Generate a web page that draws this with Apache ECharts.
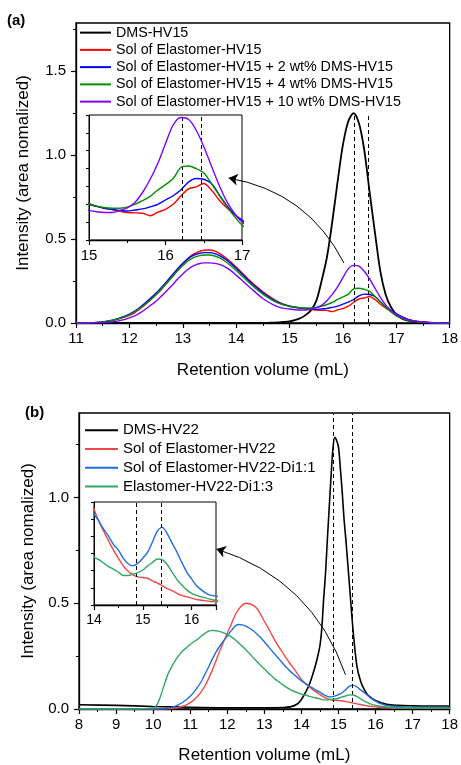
<!DOCTYPE html>
<html>
<head>
<meta charset="utf-8">
<script src="https://cdn.jsdelivr.net/npm/echarts@6/dist/echarts.min.js"></script>
<style>
html,body{margin:0;padding:0;background:#fff;}
#c{width:461px;height:765px;}
</style>
</head>
<body>
<div id="c"></div>
<script>
// ---------- Panel (a) ----------
const retA = [11.0,11.1,11.2,11.3,11.4,11.5,11.6,11.7,11.8,11.9,
  12.0,12.1,12.2,12.3,12.4,12.5,12.6,12.7,12.8,12.9,
  13.0,13.1,13.2,13.3,13.4,13.5,13.6,13.7,13.8,13.9,
  14.0,14.1,14.2,14.3,14.4,14.5,14.6,14.7,14.8,14.9,
  15.0,15.1,15.2,15.3,15.4,15.5,15.6,15.7,15.8,15.9,
  16.0,16.1,16.2,16.3,16.4,16.5,16.6,16.7,16.8,16.9,
  17.0,17.1,17.2,17.3,17.4,17.5,17.6,17.7,17.8,17.9,18.0];
const dmsHV15 = [0,0,0,0,0,0,0,0,0,0,
  0,0,0,0,0,0,0,0,0,0,
  0,0,0,0,0,0,0,0,0,0,
  0,0,0,0,0,0,0.001,0.002,0.003,0.006,
  0.01,0.017,0.028,0.047,0.075,0.13,0.25,0.39,0.6,0.84,
  1.06,1.2,1.25,1.19,1.03,0.78,0.54,0.31,0.17,0.095,
  0.05,0.027,0.015,0.008,0.004,0.002,0.001,0,0,0,0];
const solHV15 = [0,0,0.001,0.002,0.003,0.005,0.01,0.016,0.024,0.033,
  0.045,0.062,0.085,0.11,0.138,0.168,0.2,0.237,0.275,0.315,
  0.352,0.385,0.41,0.425,0.433,0.435,0.428,0.412,0.39,0.363,
  0.333,0.302,0.27,0.24,0.212,0.186,0.163,0.142,0.124,0.11,
  0.102,0.094,0.089,0.085,0.08,0.077,0.076,0.075,0.068,0.078,
  0.086,0.1,0.123,0.143,0.149,0.158,0.14,0.112,0.09,0.072,
  0.051,0.035,0.022,0.014,0.009,0.006,0.004,0.002,0,0,0];
const sol2wt = [0,0,0.001,0.002,0.004,0.007,0.012,0.019,0.028,0.039,
  0.053,0.071,0.094,0.12,0.148,0.178,0.212,0.248,0.285,0.322,
  0.355,0.383,0.402,0.414,0.419,0.419,0.413,0.4,0.38,0.355,
  0.326,0.295,0.264,0.234,0.206,0.18,0.158,0.138,0.121,0.108,
  0.1,0.094,0.089,0.086,0.083,0.081,0.084,0.087,0.093,0.1,
  0.112,0.124,0.14,0.162,0.172,0.17,0.158,0.128,0.097,0.072,
  0.056,0.038,0.025,0.016,0.01,0.006,0.003,0.001,0,0,0];
const sol4wt = [0,0,0.001,0.002,0.003,0.006,0.011,0.017,0.026,0.037,
  0.05,0.067,0.088,0.113,0.14,0.17,0.203,0.238,0.274,0.31,
  0.342,0.37,0.389,0.4,0.405,0.405,0.399,0.386,0.366,0.341,
  0.313,0.283,0.253,0.224,0.196,0.172,0.151,0.132,0.117,0.106,
  0.1,0.095,0.091,0.089,0.089,0.092,0.1,0.11,0.122,0.14,
  0.155,0.172,0.203,0.207,0.2,0.188,0.158,0.126,0.094,0.066,
  0.042,0.028,0.018,0.011,0.007,0.004,0.002,0.001,0,0,0];
const sol10wt = [0,0,0,0.001,0.002,0.003,0.005,0.008,0.013,0.02,
  0.03,0.043,0.06,0.082,0.106,0.13,0.16,0.192,0.225,0.26,
  0.292,0.32,0.34,0.353,0.358,0.358,0.355,0.347,0.333,0.312,
  0.285,0.257,0.228,0.2,0.172,0.146,0.125,0.108,0.095,0.087,
  0.083,0.079,0.077,0.077,0.082,0.09,0.105,0.133,0.17,0.215,
  0.27,0.322,0.343,0.338,0.308,0.262,0.207,0.154,0.108,0.075,
  0.051,0.034,0.022,0.014,0.008,0.005,0.003,0.001,0,0,0];
const namesA = ['DMS-HV15','Sol of Elastomer-HV15','Sol of Elastomer-HV15 + 2 wt% DMS-HV15',
  'Sol of Elastomer-HV15 + 4 wt% DMS-HV15','Sol of Elastomer-HV15 + 10 wt% DMS-HV15'];
const colorsA = ['#000000','#ff0000','#0000ff','#009000','#7f00ff'];
const dashA = [16.22, 16.47];
const dashTopA = 1.24;
const arrowA = [[16.02, 0.357],[13.86, 0.863]];

// ---------- Panel (b) ----------
const retB = [8,9,
  10.0,10.1,10.2,10.3,10.4,10.5,10.6,10.7,10.8,10.9,
  11.0,11.1,11.2,11.3,11.4,11.5,11.6,11.7,11.8,11.9,
  12.0,12.1,12.2,12.3,12.4,12.5,12.6,12.7,12.8,12.9,
  13.0,13.1,13.2,13.3,13.4,13.5,13.6,13.7,13.8,13.9,
  14.0,14.1,14.2,14.3,14.4,14.5,14.6,14.7,14.8,14.9,
  15.0,15.1,15.2,15.3,15.4,15.5,15.6,15.7,15.8,15.9,
  16.0,16.1,16.2,16.3,16.4,16.5,17,18];
const solHV22 = [0,0,
  0,0,0,0,0.001,0.002,0.004,0.008,0.013,0.02,
  0.03,0.043,0.06,0.082,0.11,0.145,0.185,0.23,0.275,0.318,
  0.358,0.398,0.44,0.47,0.49,0.5,0.498,0.49,0.475,0.448,
  0.415,0.385,0.352,0.32,0.292,0.265,0.238,0.213,0.19,0.165,
  0.14,0.122,0.107,0.093,0.08,0.068,0.057,0.049,0.044,0.041,
  0.04,0.039,0.035,0.032,0.028,0.024,0.021,0.017,0.014,0.012,
  0.01,0.008,0.007,0.006,0.005,0.005,0.004,0.003];
const solHV22Di11 = [0,0,
  0,0,0.001,0.002,0.004,0.008,0.014,0.022,0.032,0.045,
  0.06,0.08,0.103,0.13,0.165,0.2,0.237,0.27,0.298,0.322,
  0.345,0.368,0.39,0.4,0.398,0.392,0.382,0.37,0.355,0.338,
  0.318,0.297,0.276,0.256,0.236,0.215,0.196,0.178,0.163,0.148,
  0.133,0.122,0.11,0.1,0.088,0.08,0.068,0.06,0.057,0.061,
  0.068,0.077,0.092,0.108,0.113,0.104,0.09,0.077,0.062,0.048,
  0.038,0.028,0.022,0.017,0.014,0.013,0.008,0.006];
const elaHV22Di13 = [0,0,
  0.005,0.02,0.06,0.115,0.165,0.2,0.23,0.255,0.275,0.29,
  0.305,0.318,0.33,0.345,0.358,0.368,0.372,0.37,0.366,0.36,
  0.352,0.342,0.33,0.314,0.298,0.28,0.262,0.243,0.225,0.206,
  0.19,0.172,0.156,0.14,0.127,0.114,0.102,0.092,0.084,0.077,
  0.07,0.066,0.061,0.056,0.052,0.048,0.043,0.043,0.045,0.047,
  0.051,0.057,0.062,0.067,0.066,0.059,0.048,0.037,0.029,0.022,
  0.017,0.014,0.012,0.01,0.008,0.007,0.005,0.004];
const retBlackB = [8,9,10,11,12,13,13.5,13.7,13.9,14.0,14.1,14.2,14.3,14.4,14.5,14.55,14.6,14.65,14.7,14.75,
  14.8,14.85,14.9,14.95,15.0,15.05,15.1,15.15,15.2,15.3,15.4,15.5,15.6,15.7,15.8,16.0,16.3,16.6,17,17.5,18];
const dmsHV22 = [0.02,0.017,0.012,0.008,0.006,0.006,0.007,0.01,0.025,0.045,0.075,0.11,0.16,0.22,0.3,0.38,0.52,0.64,0.8,0.95,
  1.1,1.23,1.285,1.27,1.24,1.14,1.03,0.9,0.8,0.58,0.36,0.2,0.13,0.09,0.065,0.04,0.022,0.017,0.015,0.014,0.014];
const namesB = ['DMS-HV22','Sol of Elastomer-HV22','Sol of Elastomer-HV22-Di1:1','Elastomer-HV22-Di1:3'];
const colorsB = ['#000000','#f04848','#1e6fdc','#30a860'];
const dashB = [14.87, 15.37];
const arrowB = [[15.19, 0.162],[11.71, 0.757]];

function pairs(xs, ys){ return xs.map((x,i)=>[x, ys[i]]); }

const chart = echarts.init(document.getElementById('c'), null, {renderer:'canvas'});
const FONT = 'Liberation Sans, Arial, sans-serif';
const txt = {color:'#000', fontFamily: FONT};

function xAxisCfg(gi, min, max, size, name, gap, showMax){
  return {type:'value', gridIndex:gi, min:min, max:max, interval:1,
    name:name, nameLocation:'middle', nameGap:gap,
    nameTextStyle:Object.assign({fontSize:17}, txt),
    axisLine:{show:true, onZero:false, lineStyle:{color:'#000', width:1.3}},
    axisTick:{show:true, length:5, lineStyle:{color:'#000', width:1.2}},
    minorTick:{show:true, splitNumber:2, length:3, lineStyle:{color:'#000', width:1}},
    axisLabel:Object.assign({fontSize:size, margin:8, showMaxLabel: showMax}, txt),
    splitLine:{show:false}};
}
function yAxisMain(gi, max, name, gap){
  return {type:'value', gridIndex:gi, min:0, max:max, interval:0.5,
    name:name, nameLocation:'middle', nameGap:gap,
    nameTextStyle:Object.assign({fontSize:17}, txt),
    axisLine:{show:true, onZero:false, lineStyle:{color:'#000', width:1.3}},
    axisTick:{show:true, length:5, customValues:[0,0.5,1,1.5], lineStyle:{color:'#000', width:1.2}},
    minorTick:{show:true, splitNumber:2, length:3, lineStyle:{color:'#000', width:1}},
    axisLabel:Object.assign({fontSize:15, margin:10, showMaxLabel:false,
      formatter:(v)=>v.toFixed(1)}, txt),
    splitLine:{show:false}};
}
function yAxisInset(gi, max, interval){
  return {type:'value', gridIndex:gi, min:0, max:max, interval:interval,
    axisLine:{show:true, onZero:false, lineStyle:{color:'#000', width:1}},
    axisTick:{show:true, length:3, lineStyle:{color:'#000', width:1}},
    axisLabel:{show:false}, splitLine:{show:false}};
}
function arrowSeries(xi, coords){
  return {type:'lines', coordinateSystem:'cartesian2d', xAxisIndex:xi, yAxisIndex:xi,
    silent:true, animation:false, z:20, symbol:['none','arrow'], symbolSize:[7,9],
    lineStyle:{color:'#000', width:1, opacity:1, curveness:-0.25},
    data:[{coords:coords}]};
}

const series = [];
const dataA = [dmsHV15, solHV15, sol2wt, sol4wt, sol10wt];
dataA.forEach((ys, i)=>{
  const s = {type:'line', name:namesA[i], xAxisIndex:0, yAxisIndex:0,
    data:pairs(retA, ys), showSymbol:false, symbol:'none', smooth:0.3, animation:false,
    lineStyle:{color:colorsA[i], width: i===0 ? 1.8 : 1.4}, itemStyle:{color:colorsA[i]}, z: 2+i};
  if (i===0){
    s.markLine = {silent:true, symbol:['none','none'], animation:false, label:{show:false},
      lineStyle:{color:'#000', type:[4,3], width:1},
      data: dashA.map(x=>[{coord:[x,0]},{coord:[x,dashTopA]}])};
  }
  series.push(s);
});
series.push(arrowSeries(0, arrowA));
// inset (a)
dataA.forEach((ys, i)=>{
  if (i===0) return;
  const s = {type:'line', name:namesA[i], xAxisIndex:1, yAxisIndex:1,
    data:pairs(retA, ys), showSymbol:false, symbol:'none', smooth:0.3, animation:false, clip:true,
    lineStyle:{color:colorsA[i], width:1.4}, itemStyle:{color:colorsA[i]}, z: 2+i};
  if (i===1){
    s.markLine = {silent:true, symbol:['none','none'], animation:false, label:{show:false},
      lineStyle:{color:'#000', type:[4,3], width:1},
      data: dashA.map(x=>({xAxis:x}))};
  }
  series.push(s);
});

const dataB = [null, solHV22, solHV22Di11, elaHV22Di13];
namesB.forEach((nm, i)=>{
  const d = i===0 ? pairs(retBlackB, dmsHV22) : pairs(retB, dataB[i]);
  const s = {type:'line', name:nm, xAxisIndex:2, yAxisIndex:2, data:d,
    showSymbol:false, symbol:'none', smooth:0.3, animation:false,
    lineStyle:{color:colorsB[i], width: i===0 ? 1.6 : 1.4}, itemStyle:{color:colorsB[i]}, z:2+i};
  if (i===0){
    s.markLine = {silent:true, symbol:['none','none'], animation:false, label:{show:false},
      lineStyle:{color:'#000', type:[4,3], width:1},
      data: dashB.map(x=>({xAxis:x}))};
  }
  series.push(s);
});
series.push(arrowSeries(2, arrowB));
// inset (b)
namesB.forEach((nm, i)=>{
  if (i===0) return;
  const s = {type:'line', name:nm, xAxisIndex:3, yAxisIndex:3, data:pairs(retB, dataB[i]),
    showSymbol:false, symbol:'none', smooth:0.3, animation:false, clip:true,
    lineStyle:{color:colorsB[i], width:1.4}, itemStyle:{color:colorsB[i]}, z:2+i};
  if (i===1){
    s.markLine = {silent:true, symbol:['none','none'], animation:false, label:{show:false},
      lineStyle:{color:'#000', type:[4,3], width:1},
      data: dashB.map(x=>({xAxis:x}))};
  }
  series.push(s);
});

const gridStyle = {show:true, borderColor:'#000', borderWidth:1.3, backgroundColor:'rgba(0,0,0,0)', containLabel:false};

chart.setOption({
  backgroundColor:'#fff',
  animation:false,
  title:[
    {text:'(a)', left:7, top:13, padding:0, textStyle:{fontSize:15, fontWeight:'bold', color:'#000', fontFamily:FONT}},
    {text:'(b)', left:25, top:405, padding:0, textStyle:{fontSize:15, fontWeight:'bold', color:'#000', fontFamily:FONT}}
  ],
  grid:[
    Object.assign({left:76, top:23, width:374, height:300}, gridStyle),
    Object.assign({left:89, top:115, width:153, height:125}, gridStyle, {borderWidth:1}),
    Object.assign({left:79, top:413, width:371, height:299}, gridStyle),
    Object.assign({left:94, top:502, width:122, height:103}, gridStyle, {borderWidth:1})
  ],
  xAxis:[
    xAxisCfg(0, 11, 18, 15, 'Retention volume (mL)', 39, true),
    xAxisCfg(1, 15, 17, 15, '', 0, true),
    xAxisCfg(2, 8, 18, 15, 'Retention volume (mL)', 38, true),
    xAxisCfg(3, 14, 16.5, 14, '', 0, false)
  ],
  yAxis:[
    yAxisMain(0, 1.786, 'Intensity (area nomalized)', 44),
    yAxisInset(1, 0.35, 0.05),
    yAxisMain(2, 1.4, 'Intensity (area nomalized)', 41),
    yAxisInset(3, 0.15, 0.025)
  ],
  legend:[
    {data:namesA, orient:'vertical', left:80, top:24, itemWidth:31, itemHeight:2, itemGap:0,
      icon:'rect', selectedMode:false, padding:0,
      textStyle:{fontSize:14.3, lineHeight:17.25, color:'#000', fontFamily:FONT}},
    {data:namesB, orient:'vertical', left:85, top:421, itemWidth:33, itemHeight:2, itemGap:0,
      icon:'rect', selectedMode:false, padding:0,
      textStyle:{fontSize:15, lineHeight:18.7, color:'#000', fontFamily:FONT}}
  ],
  series: series
});
</script>
</body>
</html>
